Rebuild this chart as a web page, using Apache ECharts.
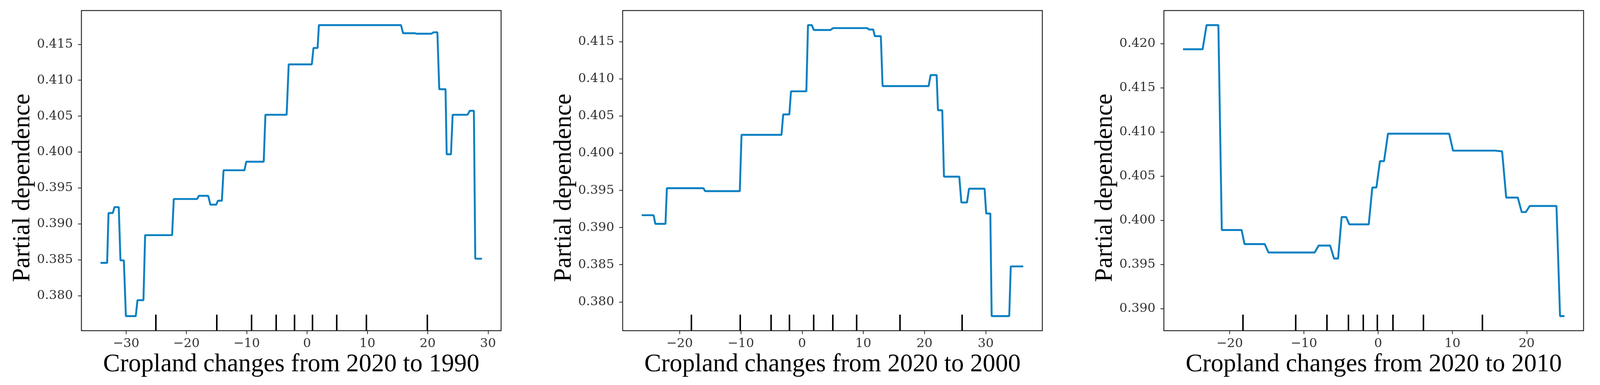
<!DOCTYPE html>
<html>
<head>
<meta charset="utf-8">
<script src="https://cdn.jsdelivr.net/npm/echarts@6/dist/echarts.min.js"></script>
<style>
html,body{margin:0;padding:0;background:#fff;overflow:hidden;}
#c{width:100vw;height:100vh;}
</style>
</head>
<body>
<div id="c"></div>
<script>
// ---------- data ----------
const xLabels = ['Cropland changes from 2020 to 1990', 'Cropland changes from 2020 to 2000', 'Cropland changes from 2020 to 2010'];
const yLabel = 'Partial dependence';

const x1990 = [-34.24, -33.14, -32.91, -32.2, -31.92, -31.21, -30.93, -30.37, -30.03, -28.39, -28.11, -27.12, -26.84, -22.37, -22.09, -18.22, -17.94, -16.38, -16.02, -15.06, -14.77, -14.12, -13.84, -10.37, -10.08, -7.18, -6.90, -3.38, -3.04, 0.79, 1.07, 1.75, 1.97, 15.58, 15.92, 17.89, 18.17, 20.62, 20.99, 21.61, 21.92, 22.96, 23.15, 23.86, 24.14, 26.62, 26.96, 27.66, 27.89, 29.01];
const pd1990 = [0.38458, 0.38458, 0.39152, 0.39152, 0.39234, 0.39234, 0.38493, 0.38493, 0.37717, 0.37717, 0.37939, 0.37939, 0.38844, 0.38844, 0.39347, 0.39347, 0.39391, 0.39391, 0.39268, 0.39268, 0.39323, 0.39323, 0.39747, 0.39747, 0.39866, 0.39866, 0.40519, 0.40519, 0.41220, 0.41220, 0.41449, 0.41449, 0.41767, 0.41767, 0.41654, 0.41654, 0.41647, 0.41647, 0.41667, 0.41667, 0.40875, 0.40875, 0.39969, 0.39969, 0.40519, 0.40519, 0.40574, 0.40574, 0.38516, 0.38516];
const deciles1990 = [-25.1, -15.0, -9.2, -5.15, -2.06, 0.9, 4.93, 9.8, 19.9];

const x2000 = [-26.19, -24.25, -23.97, -22.31, -22.08, -16.11, -15.83, -10.17, -9.89, -3.36, -3.08, -2.08, -1.81, 0.70, 0.97, 1.59, 1.92, 4.65, 5.07, 10.64, 10.92, 11.62, 11.89, 12.87, 13.15, 20.67, 21.0, 21.98, 22.2, 22.9, 23.18, 25.68, 26.02, 26.94, 27.27, 29.81, 30.08, 30.75, 30.97, 33.84, 34.09, 36.13];
const pd2000 = [0.39166, 0.39166, 0.39050, 0.39050, 0.39530, 0.39530, 0.39490, 0.39490, 0.40248, 0.40248, 0.40523, 0.40523, 0.40834, 0.40834, 0.41725, 0.41725, 0.41659, 0.41659, 0.41685, 0.41685, 0.41666, 0.41666, 0.41576, 0.41576, 0.40904, 0.40904, 0.41053, 0.41053, 0.40579, 0.40579, 0.39685, 0.39685, 0.39338, 0.39338, 0.39523, 0.39523, 0.39189, 0.39189, 0.37808, 0.37808, 0.38477, 0.38477];
const deciles2000 = [-18.1, -10.1, -5.1, -2.1, 1.9, 5.0, 8.9, 16.0, 26.1];

const x2010 = [-26.29, -23.64, -23.11, -21.52, -21.06, -18.39, -18.0, -15.28, -14.77, -8.55, -8.02, -6.47, -5.94, -5.40, -4.92, -4.32, -3.89, -1.27, -0.79, -0.24, 0.24, 0.79, 1.32, 9.56, 10.08, 15.73, 16.69, 17.24, 18.80, 19.33, 19.88, 20.41, 24.01, 24.49, 25.09];
const pd2010 = [0.41936, 0.41936, 0.42209, 0.42209, 0.39891, 0.39891, 0.39732, 0.39732, 0.39637, 0.39637, 0.39715, 0.39715, 0.39568, 0.39568, 0.40038, 0.40038, 0.39955, 0.39955, 0.40372, 0.40372, 0.40670, 0.40670, 0.40981, 0.40981, 0.40789, 0.40789, 0.40781, 0.40258, 0.40258, 0.40094, 0.40094, 0.40163, 0.40163, 0.38917, 0.38917];
const deciles2010 = [-18.2, -11.1, -6.9, -4.0, -2.0, -0.1, 2.0, 6.1, 14.0];

const xTicks1990 = [-30, -20, -10, 0, 10, 20, 30];
const xTicks2000 = [-20, -10, 0, 10, 20, 30];
const xTicks2010 = [-20, -10, 0, 10, 20];
const yTicks1990 = [0.380, 0.385, 0.390, 0.395, 0.400, 0.405, 0.410, 0.415];
const yTicks2000 = [0.380, 0.385, 0.390, 0.395, 0.400, 0.405, 0.410, 0.415];
const yTicks2010 = [0.390, 0.395, 0.400, 0.405, 0.410, 0.415, 0.420];

// ---------- build ----------
const el = document.getElementById('c');
const W = el.clientWidth || window.innerWidth, H = el.clientHeight || window.innerHeight;
const sx = W / 4186, sy = H / 985, sf = Math.min(sx, sy);

const panels = [
  {x: x1990, y: pd1990, dec: deciles1990, xt: xTicks1990, yt: yTicks1990, left: 213},
  {x: x2000, y: pd2000, dec: deciles2000, xt: xTicks2000, yt: yTicks2000, left: 1629},
  {x: x2010, y: pd2010, dec: deciles2010, xt: xTicks2010, yt: yTicks2010, left: 3045}
];
function lims(a){ const mn = Math.min(...a), mx = Math.max(...a), p = (mx - mn) * 0.05; return [mn - p, mx + p]; }

const lineColor = '#0a80c2';
const frameColor = '#2b2b2b';
const tickFont = {fontFamily: 'DejaVu Serif', fontSize: 33 * sf, color: '#333'};

const grid = [], xAxis = [], yAxis = [], series = [];
panels.forEach((p, i) => {
  const xl = lims(p.x), yl = lims(p.y);
  grid.push({left: p.left * sx, top: 27 * sy, width: 1098 * sx, height: 819 * sy, show: true, borderColor: frameColor, borderWidth: 2.5 * sf, backgroundColor: 'transparent', containLabel: false});
  xAxis.push({
    type: 'value', gridIndex: i, min: xl[0], max: xl[1], position: 'bottom',
    name: xLabels[i], nameLocation: 'middle', nameGap: 49 * sy,
    nameTextStyle: {fontFamily: 'Liberation Serif', fontSize: 66 * sf, color: '#000'},
    axisLine: {show: false, onZero: false}, splitLine: {show: false},
    axisTick: {show: true, inside: false, length: 9 * sf, lineStyle: {color: frameColor, width: 2 * sf}, customValues: p.xt},
    axisLabel: Object.assign({margin: 18 * sy, customValues: p.xt, formatter: v => String(v).replace('-', '\u2212')}, tickFont)
  });
  // rug of deciles drawn as inside ticks on a twin x axis
  xAxis.push({
    type: 'value', gridIndex: i, min: xl[0], max: xl[1], position: 'bottom',
    axisLine: {show: false, onZero: false}, splitLine: {show: false}, axisLabel: {show: false},
    axisTick: {show: true, inside: true, length: 41 * sy, lineStyle: {color: '#000', width: 4 * sf}, customValues: p.dec}
  });
  yAxis.push({
    type: 'value', gridIndex: i, min: yl[0], max: yl[1], position: 'left',
    name: yLabel, nameLocation: 'middle', nameGap: 118 * sx, nameRotate: 90,
    nameTextStyle: {fontFamily: 'Liberation Serif', fontSize: 65 * sf, color: '#000', padding: [0, 90 * sf, 0, 0]},
    axisLine: {show: false, onZero: false}, splitLine: {show: false},
    axisTick: {show: true, inside: false, length: 9 * sf, lineStyle: {color: frameColor, width: 2 * sf}, customValues: p.yt},
    axisLabel: Object.assign({margin: 22 * sx, customValues: p.yt, formatter: v => v.toFixed(3)}, tickFont)
  });
  series.push({
    type: 'line', xAxisIndex: i * 2, yAxisIndex: i,
    data: p.x.map((xv, k) => [xv, p.y[k]]),
    showSymbol: false, symbol: 'none', smooth: false,
    lineStyle: {color: lineColor, width: 5 * sf}, clip: false
  });
});

const chart = echarts.init(el);
chart.setOption({animation: false, backgroundColor: '#fff', grid, xAxis, yAxis, series});
</script>
</body>
</html>
